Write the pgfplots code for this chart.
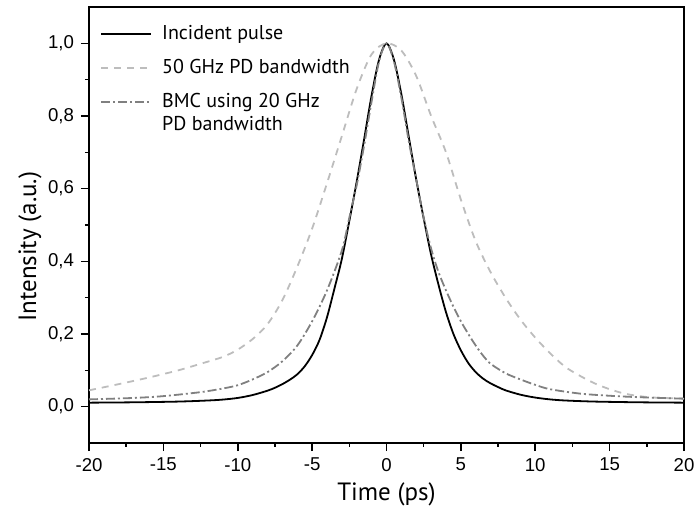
\documentclass[border=0pt]{standalone}
\usepackage{fontspec}
\setmainfont{Liberation Sans}
\newfontfamily\labelfont{PT Sans}
\usepackage{pgfplots}
\pgfplotsset{compat=1.18}
\definecolor{lightgr}{HTML}{BDBDBD}
\definecolor{midgr}{HTML}{808080}

\begin{document}
\begin{tikzpicture}
\begin{axis}[
  scale only axis, width=297.5pt, height=218pt,
  xmin=-20, xmax=20, ymin=-0.1, ymax=1.1,
  xtick={-20,-15,-10,-5,0,5,10,15,20},
  ytick={0,0.2,0.4,0.6,0.8,1},
  minor x tick num=1, minor y tick num=1,
  tick align=outside, xtick pos=bottom, ytick pos=left,
  major tick length=4pt, minor tick length=2pt,
  axis line style={line width=0.9pt},
  tick style={line width=0.8pt, black},
  /pgf/number format/assume math mode=true,
  yticklabel style={/pgf/number format/.cd, use comma, fixed, fixed zerofill, precision=1},
  tick label style={font=\fontsize{9.3}{10}\selectfont},
  xlabel={Time (ps)}, ylabel={Intensity (a.u.)},
  label style={font=\labelfont\fontsize{12.5}{14}\selectfont},
  xlabel style={at={(axis description cs:0.5,-0.117)}, anchor=center},
  ylabel style={at={(axis description cs:-0.099,0.45)}, anchor=center},
  legend style={at={(axis description cs:0.0185,0.968)}, anchor=north west,
    draw=none, fill=none, inner sep=0pt, row sep=4.5pt, column sep=3pt,
    font=\labelfont\fontsize{10}{12}\selectfont},
  legend cell align=left,
  legend image code/.code={\draw[#1] (0pt,0pt) -- (25pt,0pt);},
]
\addplot[black, line width=0.9pt, smooth] coordinates {
  (-20,0.011) (-17,0.012) (-14,0.014) (-12,0.017) (-11,0.0195) (-10,0.024)
  (-9,0.032) (-8,0.044) (-7.5,0.052) (-7,0.062) (-6.5,0.074) (-6,0.089)
  (-5.5,0.111) (-5,0.142) (-4.5,0.184) (-4,0.246) (-3.5,0.325) (-3,0.407)
  (-2.5,0.511) (-2,0.62) (-1.5,0.737) (-1,0.857) (-0.5,0.955) (0,1.0)
  (0.5,0.955) (1,0.86) (1.5,0.742) (2,0.625) (2.5,0.518) (3,0.418)
  (3.5,0.335) (4,0.26) (4.5,0.2) (5,0.155) (5.5,0.12) (6,0.095)
  (6.5,0.077) (7,0.064) (7.5,0.054) (8,0.045) (9,0.033) (10,0.025)
  (11,0.02) (12,0.017) (14,0.014) (17,0.012) (20,0.011)
};
\addlegendentry{Incident pulse}
\addplot[lightgr, line width=0.9pt, smooth, dash pattern=on 3.5pt off 3pt] coordinates {
  (-20,0.045) (-18,0.062) (-16,0.08) (-14,0.1) (-12.5,0.118) (-11,0.137)
  (-10,0.157) (-9,0.186) (-8,0.227) (-7,0.293) (-6,0.385) (-5,0.49)
  (-4,0.615) (-3,0.745) (-2,0.875) (-1,0.97) (0,1.0) (1,0.98)
  (2,0.91) (3,0.80) (4,0.70) (5,0.57) (6,0.455) (7,0.37) (8,0.30)
  (9,0.24) (10,0.19) (11,0.147) (12,0.11) (13,0.085) (14,0.064)
  (15,0.048) (16,0.036) (17,0.029) (18,0.025) (20,0.022)
};
\addlegendentry{50 GHz PD bandwidth}
\addplot[midgr, line width=0.9pt, smooth, dash pattern=on 4.5pt off 1.5pt on 1pt off 1.5pt] coordinates {
  (-20,0.02) (-17,0.024) (-15,0.029) (-12.5,0.04) (-11,0.05) (-10,0.059)
  (-9,0.075) (-8,0.095) (-7,0.125) (-6,0.168) (-5,0.235) (-4,0.32)
  (-3,0.43) (-2.5,0.52) (-2,0.61) (-1.5,0.72) (-1,0.84) (-0.5,0.95)
  (0,1.0) (0.5,0.95) (1,0.85) (1.5,0.73) (2,0.625) (2.5,0.52)
  (3,0.435) (3.5,0.37) (4,0.32) (4.5,0.275) (5,0.235) (5.5,0.2)
  (6,0.168) (6.5,0.14) (7,0.118) (8,0.092) (9,0.075) (10,0.06)
  (11,0.048) (13,0.036) (15,0.03) (17,0.026) (20,0.022)
};
\addlegendentry{BMC using 20 GHz}
\addlegendimage{empty legend}
\addlegendentry{\raisebox{-1.2pt}[0pt][0pt]{PD bandwidth}}
\end{axis}
\pgfresetboundingbox
\path (-44.5pt,-35pt) rectangle (303pt,221.5pt);
\end{tikzpicture}
\end{document}
